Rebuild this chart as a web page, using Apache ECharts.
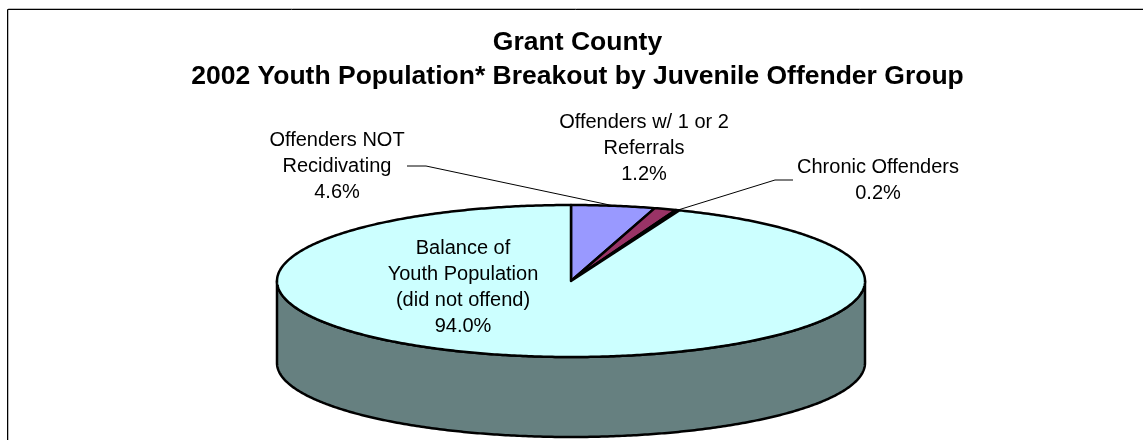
<!DOCTYPE html>
<html><head><meta charset="utf-8">
<style>html,body{margin:0;padding:0;background:#fff}#c{width:1143px;height:440px}</style>
<script src="https://cdn.jsdelivr.net/npm/echarts@6/dist/echarts.min.js"></script>
</head><body><div id="c"></div>
<script>
const titleLines = ['Grant County', '2002 Youth Population* Breakout by Juvenile Offender Group'];
const categories = ['Offenders NOT\nRecidivating', 'Offenders w/ 1 or 2\nReferrals', 'Chronic Offenders', 'Balance of\nYouth Population\n(did not offend)'];
const shares = [4.6, 1.2, 0.2, 94.0];
const topColors = ['#9999FF', '#993366', '#000000', '#CCFFFF'];
const sideColor = '#668080';
// layout
const cx = 571, cy = 281, rx = 294, ry = 76, depth = 82, baseRy = 74;
const labelAt = [[337, 166], [644, 148.5], [878, 180], [463, 287.5]];
const leaders = [[[407, 166], [426, 166]], null, [[793, 180], [775, 180]], null];

const total = shares.reduce((a, b) => a + b, 0);
const starts = []; shares.reduce((a, v, i) => (starts[i] = a, a + v), 0);
const ang = p => p / total * 2 * Math.PI;
const pt = t => [cx + rx * Math.sin(t), cy - ry * Math.cos(t)];
const ptBase = t => [cx + rx * Math.sin(t), cy + depth - baseRy * Math.cos(t)];
function arc(a, b, f) {
  const n = Math.max(4, Math.ceil((b - a) / 0.01)), out = [];
  for (let i = 0; i <= n; i++) out.push(f(a + (b - a) * i / n));
  return out;
}
function renderSlice(params, api) {
  const s = api.value(0), v = api.value(1), i = params.dataIndex;
  const a = ang(s), b = ang(s + v), children = [];
  const fa = Math.max(a, Math.PI / 2), fb = Math.min(b, Math.PI * 1.5);
  if (fb > fa) {
    children.push({ type: 'polygon', shape: { points: arc(fa, fb, pt).concat(arc(fa, fb, ptBase).reverse()) },
      style: { fill: sideColor, stroke: '#000', lineWidth: 2.5, lineJoin: 'round' } });
  }
  children.push({ type: 'polygon', shape: { points: [[cx, cy]].concat(arc(a, b, pt)) },
    style: { fill: topColors[i], stroke: '#000', lineWidth: 2.5, lineJoin: 'round' } });
  return { type: 'group', children };
}
function renderLabel(params, api) {
  const i = params.dataIndex;
  const name = categories[i], pct = api.value(1).toFixed(1) + '%';
  const kids = [{ type: 'text', x: labelAt[i][0], y: labelAt[i][1],
    style: { text: name + '\n' + pct, fill: '#000', font: '20px "Liberation Sans"',
      lineHeight: 26, align: 'center', verticalAlign: 'middle' } }];
  if (leaders[i]) {
    const end = pt(ang(api.value(0) + api.value(1) / 2));
    kids.push({ type: 'polyline', shape: { points: leaders[i].concat([end]) },
      style: { stroke: '#000', lineWidth: 1, fill: null } });
  }
  return { type: 'group', children: kids };
}
const rows = shares.map((v, i) => [starts[i], v]);
const chart = echarts.init(document.getElementById('c'), null, { renderer: 'canvas' });
chart.setOption({
  animation: false,
  backgroundColor: '#fff',
  title: { text: titleLines.join('\n'), left: 577.5, top: 26, padding: 0, textAlign: 'center',
    textStyle: { fontFamily: 'Liberation Sans', fontSize: 26.5, fontWeight: 'bold', color: '#000', lineHeight: 34 } },
  graphic: [
    { type: 'rect', shape: { x: 8.5, y: 8.5, width: 1200, height: 500 }, style: { fill: 'transparent', stroke: '#bbb', lineWidth: 1 }, z: -2 },
    { type: 'rect', shape: { x: 7.5, y: 9.5, width: 1200, height: 500 }, style: { fill: 'transparent', stroke: '#000', lineWidth: 1 }, z: -1 }
  ],
  series: [
    { type: 'custom', coordinateSystem: 'none', renderItem: renderSlice, data: rows, z: 2, silent: true },
    { type: 'custom', coordinateSystem: 'none', renderItem: renderLabel, data: rows, z: 3, silent: true }
  ]
});
</script></body></html>
